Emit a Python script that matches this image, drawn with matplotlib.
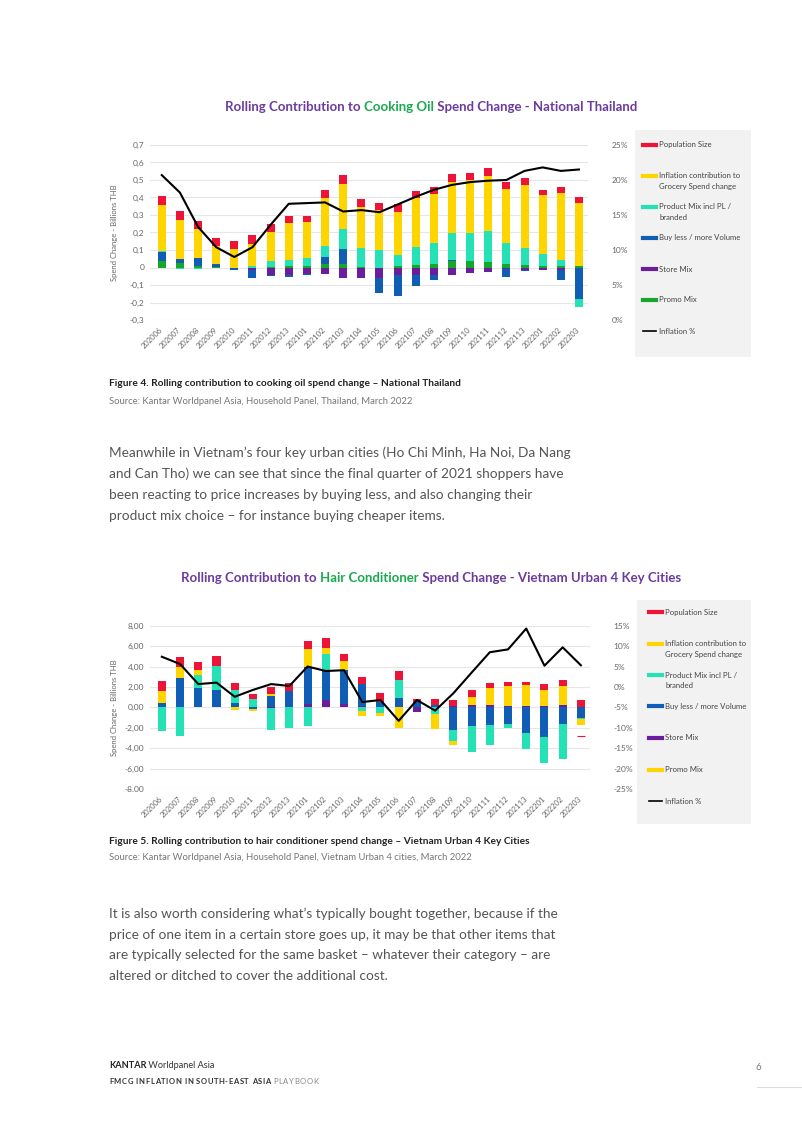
import matplotlib
matplotlib.use("Agg")
import matplotlib.pyplot as plt
import numpy as np
from matplotlib.patches import Rectangle
from matplotlib.lines import Line2D

W, H = 802, 1133
plt.rcParams["font.family"] = ["Lato", "DejaVu Sans"]

MONTHS = ["202006", "202007", "202008", "202009", "202010", "202011", "202012", "202013",
          "202101", "202102", "202103", "202104", "202105", "202106", "202107", "202108",
          "202109", "202110", "202111", "202112", "202113", "202201", "202202", "202203"]

LEGEND_LABELS = ["Population Size", "Inflation contribution to\nGrocery Spend change",
                 "Product Mix incl PL /\nbranded", "Buy less / more Volume",
                 "Store Mix", "Promo Mix", "Inflation %"]

# --- Cooking oil, Thailand (billions THB) ---
promo1 = [0.035, 0.025, 0.010, 0.003, 0.0, 0.0, 0.005, 0.008, 0.010, 0.020, 0.018, 0.003,
          0.0, 0.010, 0.015, 0.022, 0.035, 0.035, 0.030, 0.018, 0.013, 0.010, 0.010, 0.008]
store1 = [-0.003, 0.0, 0.0, 0.0, -0.003, -0.012, -0.040, -0.045, -0.035, -0.035, -0.060, -0.060,
          -0.060, -0.042, -0.045, -0.045, -0.040, -0.032, -0.025, -0.010, -0.015, -0.015, -0.012, 0.0]
buy1 = [0.055, 0.023, 0.047, 0.015, -0.012, -0.050, -0.010, -0.012, -0.006, 0.040, 0.090, 0.0,
        -0.087, -0.123, -0.060, -0.025, 0.010, 0.0, 0.0, -0.045, -0.005, 0.0, -0.058, -0.180]
pm1 = [0.003, -0.010, -0.008, -0.005, 0.0, 0.010, 0.030, 0.037, 0.045, 0.065, 0.110, 0.110,
       0.100, 0.060, 0.100, 0.118, 0.155, 0.163, 0.176, 0.120, 0.100, 0.065, 0.035, -0.043]
infl1 = [0.265, 0.225, 0.163, 0.107, 0.105, 0.125, 0.170, 0.210, 0.205, 0.275, 0.260, 0.233,
         0.227, 0.250, 0.282, 0.280, 0.290, 0.300, 0.316, 0.310, 0.360, 0.340, 0.380, 0.360]
pop1 = [0.050, 0.050, 0.045, 0.045, 0.047, 0.050, 0.045, 0.042, 0.037, 0.045, 0.050, 0.045,
        0.043, 0.045, 0.042, 0.040, 0.043, 0.040, 0.045, 0.040, 0.038, 0.030, 0.036, 0.035]
pct1 = [20.7, 18.2, 13.3, 10.4, 9.0, 10.4, 13.6, 16.6, 16.7, 16.8, 15.5, 15.7,
        15.4, 16.5, 17.6, 18.6, 19.3, 19.7, 19.9, 20.0, 21.3, 21.8, 21.3, 21.5]
YTICKS1 = [0.7, 0.6, 0.5, 0.4, 0.3, 0.2, 0.1, 0.0, -0.1, -0.2, -0.3]
YLABELS1 = ["0,7", "0,6", "0,5", "0,4", "0,3", "0,2", "0,1", "0", "-0,1", "-0,2", "-0,3"]
RTICKS1 = [25, 20, 15, 10, 5, 0]
RLABELS1 = ["25%", "20%", "15%", "10%", "5%", "0%"]

# --- Hair conditioner, Vietnam urban (billions THB) ---
promo2 = [0.0] * 24
store2 = [0.0, 0.0, 0.0, 0.0, 0.0, 0.0, -0.1, 0.0, 0.3, 0.7, 0.3, 0.1,
          0.0, 0.0, -0.5, 0.0, 0.15, 0.25, 0.2, 0.15, 0.15, 0.15, 0.2, 0.0]
buy2 = [0.42, 2.84, 1.9, 1.7, 0.4, -0.15, 1.1, 1.6, 3.7, 2.9, 3.4, 2.2,
        0.55, 0.95, 0.5, 0.2, -2.2, -1.85, -1.7, -1.6, -2.5, -2.95, -1.6, -1.0]
pm2 = [-2.3, -2.85, 1.26, 2.35, 1.33, 0.85, -2.1, -2.0, -1.8, 1.65, 0.0, -0.4,
       -0.55, 1.75, 0.0, -0.7, -1.1, -2.55, -2.0, -0.4, -1.6, -2.55, -3.5, -0.1]
infl2 = [1.18, 1.16, 0.46, 0.0, -0.3, -0.25, 0.22, 0.0, 1.7, 0.6, 0.83, -0.4,
         -0.3, -2.0, 0.0, -1.4, -0.4, 0.72, 1.73, 1.9, 2.03, 1.55, 1.92, -0.6]
pop2 = [0.95, 0.9, 0.8, 0.95, 0.62, 0.45, 0.7, 0.75, 0.82, 0.9, 0.67, 0.65,
        0.85, 0.85, 0.3, 0.6, 0.6, 0.7, 0.48, 0.46, 0.27, 0.55, 0.52, 0.7]
pct2 = [7.4, 5.6, 0.7, 1.06, -2.4, -0.73, 0.7, 0.24, 5.0, 3.9, 4.1, -3.7,
        -3.2, -8.3, -3.2, -5.8, -1.55, 3.5, 8.5, 9.2, 14.3, 5.2, 9.7, 5.3]
STRAY2 = -2.85  # small red dash right of last bar
YTICKS2 = [8, 6, 4, 2, 0, -2, -4, -6, -8]
YLABELS2 = ["8,00", "6,00", "4,00", "2,00", "0,00", "-2,00", "-4,00", "-6,00", "-8.00"]
RTICKS2 = [15, 10, 5, 0, -5, -10, -15, -20, -25]
RLABELS2 = ["15%", "10%", "5%", "0%", "-5%", "-10%", "-15%", "-20%", "-25%"]

RED, YELLOW, MINT = "#ee1437", "#ffd500", "#25e2b6"
BLUE, PURPLE, GREEN = "#0f5db5", "#6a1e9c", "#15a72a"
TITLE_PURPLE, TITLE_GREEN = "#6b3c9e", "#1aa94f"
GRAY_TXT = "#666666"

fig = plt.figure(figsize=(W / 100, H / 100), dpi=100)
fig.patch.set_facecolor("white")


def fx(x):
    return x / W


def fy(y):
    return 1 - y / H


def rich(x, y, parts, ha="left", size=8, track=0.0):
    """Draw text segments next to each other (x, y in page pixels).
    With track > 0 every character is drawn on its own (letter spacing)."""
    r = fig.canvas.get_renderer()
    space_w = None
    cur = x
    objs = []
    for s, style in parts:
        pieces = list(s) if track else [s]
        for p in pieces:
            if track and p == " ":
                if space_w is None:
                    a = fig.text(0, 0, "I I", size=size, **style)
                    b = fig.text(0, 0, "II", size=size, **style)
                    space_w = a.get_window_extent(r).width - b.get_window_extent(r).width
                    a.remove()
                    b.remove()
                cur += space_w + track
                continue
            t = fig.text(fx(cur), fy(y), p, va="center", size=size, **style)
            cur += t.get_window_extent(r).width + track
            objs.append(t)
    if ha == "center":
        shift = (cur - x) / 2
        for t in objs:
            t.set_x(t.get_position()[0] - shift / W)


def chart(box, series, colors, pct, yt, yl, rt, rl, ylim, rlim):
    left, top, right, bottom = box
    ax = fig.add_axes([fx(left), fy(bottom), (right - left) / W, (bottom - top) / H])
    x = np.arange(len(MONTHS))
    pos = np.zeros(len(x))
    neg = np.zeros(len(x))
    for vals, c in zip(series, colors):
        v = np.asarray(vals, dtype=float)
        base = np.where(v >= 0, pos, neg)
        ax.bar(x, v, 0.44, bottom=base, color=c, linewidth=0, zorder=2)
        pos += np.clip(v, 0, None)
        neg += np.clip(v, None, 0)
    ax.set_xlim(-0.65, 23.5)
    ax.set_ylim(*ylim)
    ax.set_yticks(yt, yl)
    ax.set_xticks(x, MONTHS, rotation=45, ha="right", va="center", rotation_mode="anchor")
    ax.tick_params(axis="y", length=0, pad=4, labelsize=6, labelcolor=GRAY_TXT)
    ax.tick_params(axis="x", length=0, pad=6, labelsize=5.5, labelcolor=GRAY_TXT)
    ax.yaxis.grid(True, color="#e6e6e6", lw=0.8)
    ax.set_axisbelow(True)
    for s in ax.spines.values():
        s.set_visible(False)
    ax2 = ax.twinx()
    ax2.plot(x, pct, color="black", lw=1.5, zorder=3)
    ax2.set_ylim(*rlim)
    ax2.set_yticks(rt, rl)
    ax2.tick_params(axis="y", length=0, pad=17, labelsize=6, labelcolor=GRAY_TXT)
    for s in ax2.spines.values():
        s.set_visible(False)
    fig.text(fx(114), fy((top + bottom) / 2), "Spend Change - Billions THB", rotation=90,
             ha="center", va="center", size=5.5, color=GRAY_TXT)
    return ax


def legend(box, colors, hx, tx, ys):
    left, top, right, bottom = box
    fig.patches.append(Rectangle((fx(left), fy(bottom)), (right - left) / W, (bottom - top) / H,
                                 transform=fig.transFigure, facecolor="#f2f2f2", edgecolor="none"))
    for lab, c, y in zip(LEGEND_LABELS, colors, ys):
        lw = 1.2 if c == "black" else 3
        fig.lines.append(Line2D([fx(hx), fx(hx + 13)], [fy(y), fy(y)], color=c, lw=lw,
                                transform=fig.transFigure))
        first, *rest = lab.split("\n")
        fig.text(fx(tx), fy(y), first, va="center", size=5.6, color="#444444")
        for i, line in enumerate(rest):
            fig.text(fx(tx), fy(y + 10 * (i + 1)), line, va="center", size=5.6, color="#444444")


# ---------- chart 1 ----------
bold_p = dict(color=TITLE_PURPLE, weight="bold")
bold_g = dict(color=TITLE_GREEN, weight="bold")
rich(431, 107, [("Rolling Contribution to ", bold_p), ("Cooking Oil", bold_g),
                (" Spend Change - National Thailand", bold_p)], ha="center", size=9.5)
chart((150, 145, 588, 320), [promo1, store1, buy1, pm1, infl1, pop1],
      [GREEN, PURPLE, BLUE, MINT, YELLOW, RED], pct1,
      YTICKS1, YLABELS1, RTICKS1, RLABELS1, (-0.3, 0.7), (0, 25))
legend((635, 130, 751, 357), [RED, YELLOW, MINT, BLUE, PURPLE, GREEN, "black"],
       643, 659, [145, 176, 207, 238, 269, 300, 331])

fig.text(fx(109), fy(383), "Figure 4. Rolling contribution to cooking oil spend change – National Thailand",
         size=7.3, weight="bold", color="#222222", va="center")
fig.text(fx(109), fy(401), "Source: Kantar Worldpanel Asia, Household Panel, Thailand, March 2022",
         size=6.8, color="#777777", va="center")

para1 = ["Meanwhile in Vietnam’s four key urban cities (Ho Chi Minh, Ha Noi, Da Nang",
         "and Can Tho) we can see that since the final quarter of 2021 shoppers have",
         "been reacting to price increases by buying less, and also changing their",
         "product mix choice – for instance buying cheaper items."]
for i, line in enumerate(para1):
    fig.text(fx(109), fy(453 + 21 * i), line, size=9.85, color="#555555", va="center")

# ---------- chart 2 ----------
rich(431, 578, [("Rolling Contribution to ", bold_p), ("Hair Conditioner", bold_g),
                (" Spend Change - Vietnam Urban 4 Key Cities", bold_p)], ha="center", size=9.5)
ax_b = chart((150, 625.7, 590, 789), [promo2, store2, buy2, pm2, infl2, pop2],
             [YELLOW, PURPLE, BLUE, MINT, YELLOW, RED], pct2,
             YTICKS2, YLABELS2, RTICKS2, RLABELS2, (-8, 8), (-25, 15))
ax_b.hlines(STRAY2, len(MONTHS) - 1.2, len(MONTHS) - 0.75, color=RED, lw=0.8, zorder=3)
legend((637, 600, 751, 824), [RED, YELLOW, MINT, BLUE, PURPLE, YELLOW, "black"],
       649, 665, [612, 644, 675, 706, 738, 770, 801])

fig.text(fx(109), fy(842), "Figure 5. Rolling contribution to hair conditioner spend change – Vietnam Urban 4 Key Cities",
         size=7.3, weight="bold", color="#222222", va="center")
fig.text(fx(109), fy(858), "Source: Kantar Worldpanel Asia, Household Panel, Vietnam Urban 4 cities, March 2022",
         size=6.8, color="#777777", va="center")

para2 = ["It is also worth considering what’s typically bought together, because if the",
         "price of one item in a certain store goes up, it may be that other items that",
         "are typically selected for the same basket – whatever their category – are",
         "altered or ditched to cover the additional cost."]
for i, line in enumerate(para2):
    fig.text(fx(109), fy(914 + 20.7 * i), line, size=9.85, color="#555555", va="center")

# ---------- footer ----------
rich(109, 1066, [("KANTAR", dict(weight="bold", color="#222222")),
                 (" Worldpanel Asia", dict(color="#333333"))], size=6.6)
rich(109, 1082, [("FMCG INFLATION IN SOUTH-EAST ASIA", dict(weight="bold", color="#333333")),
                 (" PLAYBOOK", dict(color="#888888"))], size=5.5, track=0.6)
fig.text(fx(758), fy(1067), "6", size=7, color="#777777", ha="center", va="center")
fig.lines.append(Line2D([fx(757), fx(802)], [fy(1087), fy(1087)], color="#dddddd", lw=0.8,
                        transform=fig.transFigure))

fig.savefig("out.png", dpi=100)
